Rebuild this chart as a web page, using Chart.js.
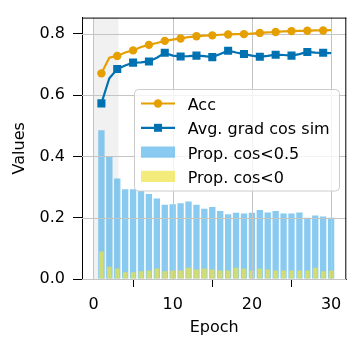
<!DOCTYPE html>
<html>
<head>
<meta charset="utf-8">
<script src="https://cdn.jsdelivr.net/npm/chart.js@4.4.0/dist/chart.umd.min.js"></script>
<style>
html, body { margin: 0; padding: 0; background: #fff; overflow: hidden; }
#wrap { width: 347px; height: 340px; overflow: hidden; }
canvas { display: block; }
</style>
</head>
<body>
<div id="wrap"><canvas id="myChart" width="352" height="340"></canvas></div>
<script>
// data
var epochs = [1, 2, 3, 4, 5, 6, 7, 8, 9, 10, 11, 12, 13, 14, 15,
              16, 17, 18, 19, 20, 21, 22, 23, 24, 25, 26, 27, 28, 29, 30];
var acc = [0.671, 0.722, 0.728, 0.739, 0.746, 0.757, 0.764, 0.770, 0.777, 0.781,
           0.785, 0.789, 0.792, 0.794, 0.795, 0.797, 0.798, 0.799, 0.799, 0.801,
           0.803, 0.805, 0.806, 0.808, 0.809, 0.810, 0.810, 0.811, 0.811, 0.812];
var avgCos = [0.573, 0.655, 0.685, 0.697, 0.706, 0.707, 0.710, 0.722, 0.738, 0.729,
              0.726, 0.727, 0.729, 0.727, 0.724, 0.734, 0.745, 0.739, 0.734, 0.729,
              0.725, 0.728, 0.732, 0.731, 0.729, 0.734, 0.741, 0.739, 0.738, 0.737];
var propHalf = [0.485, 0.400, 0.328, 0.293, 0.293, 0.287, 0.277, 0.263, 0.242, 0.244,
                0.247, 0.253, 0.242, 0.229, 0.235, 0.222, 0.211, 0.216, 0.214, 0.216,
                0.225, 0.217, 0.222, 0.214, 0.214, 0.217, 0.200, 0.207, 0.204, 0.200];
var propNeg = [0.090, 0.040, 0.034, 0.022, 0.022, 0.025, 0.028, 0.034, 0.025, 0.028,
               0.028, 0.037, 0.031, 0.034, 0.031, 0.028, 0.028, 0.037, 0.034, 0.028,
               0.034, 0.031, 0.028, 0.028, 0.028, 0.028, 0.028, 0.037, 0.025, 0.028];
var xTicks = [0, 10, 20, 30];
var yTicks = [0, 0.2, 0.4, 0.6, 0.8];
var warmup = [0, 3.15]; // grey band

var orange = '#E69F00';
var blue = '#0072B2';
var barBlue = 'rgba(86, 180, 233, 0.7)';
var barYellow = 'rgba(240, 228, 66, 0.7)';

Chart.defaults.font.family = "'DejaVu Sans', sans-serif";
Chart.defaults.font.size = 16;
Chart.defaults.color = '#000';

function pts(ys) {
    return epochs.map(function (e, i) { return { x: e, y: ys[i] }; });
}
// markers only on every other epoch
function everyOther(r) {
    return function (c) { return epochs[c.dataIndex] % 2 === 1 ? r : 0; };
}

var spanPlugin = {
    id: 'span',
    beforeDatasetsDraw: function (chart) {
        var ctx = chart.ctx, a = chart.chartArea, x = chart.scales.x;
        var x0 = x.getPixelForValue(warmup[0]);
        var x1 = x.getPixelForValue(warmup[1]);
        ctx.save();
        ctx.fillStyle = '#f1f1f1';
        ctx.fillRect(x0, a.top, x1 - x0, a.bottom - a.top);
        ctx.restore();
    }
};

// grid goes above the bars but under the lines
var gridPlugin = {
    id: 'grid',
    afterDatasetDraw: function (chart, args) {
        if (args.index !== 3) return;
        var ctx = chart.ctx, a = chart.chartArea;
        var sx = chart.scales.x, sy = chart.scales.y;
        ctx.save();
        ctx.strokeStyle = '#c4c4c4';
        ctx.lineWidth = 1;
        ctx.beginPath();
        xTicks.forEach(function (v) {
            var p = Math.round(sx.getPixelForValue(v)) + 0.5;
            ctx.moveTo(p, a.top); ctx.lineTo(p, a.bottom);
        });
        yTicks.forEach(function (v) {
            var p = Math.round(sy.getPixelForValue(v)) + 0.5;
            ctx.moveTo(a.left, p); ctx.lineTo(a.right, p);
        });
        ctx.stroke();
        ctx.restore();
    }
};

var spinePlugin = {
    id: 'spines',
    afterDatasetsDraw: function (chart) {
        var ctx = chart.ctx, a = chart.chartArea;
        ctx.save();
        ctx.strokeStyle = '#000';
        ctx.lineWidth = 1;
        ctx.beginPath();
        ctx.moveTo(a.left, a.top + 0.5); ctx.lineTo(a.right, a.top + 0.5);
        ctx.moveTo(a.right - 0.5, a.top); ctx.lineTo(a.right - 0.5, a.bottom);
        ctx.stroke();
        ctx.restore();
    }
};

var legendPlugin = {
    id: 'boxLegend',
    afterDraw: function (chart) {
        var ctx = chart.ctx;
        var bx = 134.5, by = 89.5, bw = 205, bh = 101.5;
        ctx.save();
        ctx.beginPath();
        if (ctx.roundRect) ctx.roundRect(bx, by, bw, bh, 4);
        else ctx.rect(bx, by, bw, bh);
        ctx.fillStyle = 'rgba(255,255,255,0.8)';
        ctx.fill();
        ctx.strokeStyle = '#cccccc';
        ctx.lineWidth = 1;
        ctx.stroke();

        ctx.font = "16px 'DejaVu Sans'";
        ctx.textBaseline = 'alphabetic';
        chart.data.datasets.forEach(function (ds, i) {
            var base = 110 + 24.3 * i;
            var cy = base - 6.5;
            if (ds.type === 'line') {
                ctx.strokeStyle = ds.borderColor;
                ctx.lineWidth = ds.borderWidth;
                ctx.beginPath();
                ctx.moveTo(141, cy); ctx.lineTo(175, cy);
                ctx.stroke();
                ctx.fillStyle = ds.borderColor;
                ctx.beginPath();
                if (ds.pointStyle === 'rect') ctx.rect(154, cy - 4, 8, 8);
                else ctx.arc(158, cy, 4.2, 0, Math.PI * 2);
                ctx.fill();
            } else {
                ctx.fillStyle = ds.backgroundColor;
                ctx.fillRect(141, cy - 5.6, 34, 11.2);
            }
            ctx.fillStyle = '#000';
            ctx.fillText(ds.label, 187.7, base);
        });
        ctx.restore();
    }
};

var ctx = document.getElementById('myChart').getContext('2d');
var chart = new Chart(ctx, {
    type: 'bar',
    data: {
        datasets: [{
            type: 'line',
            label: 'Acc',
            data: pts(acc),
            borderColor: orange,
            backgroundColor: orange,
            borderWidth: 2.2,
            tension: 0,
            pointStyle: 'circle',
            pointRadius: everyOther(4.2),
            pointBackgroundColor: orange,
            pointBorderColor: orange,
            pointBorderWidth: 0,
            order: 1
        }, {
            type: 'line',
            label: 'Avg. grad cos sim',
            data: pts(avgCos),
            borderColor: blue,
            backgroundColor: blue,
            borderWidth: 2.2,
            tension: 0,
            pointStyle: 'rect',
            pointRadius: everyOther(5.7),
            pointBackgroundColor: blue,
            pointBorderColor: blue,
            pointBorderWidth: 0,
            order: 0
        }, {
            type: 'bar',
            label: 'Prop. cos<0.5',
            data: pts(propHalf),
            backgroundColor: barBlue,
            borderWidth: 0,
            grouped: false,
            barPercentage: 1,
            categoryPercentage: 0.8,
            order: 3
        }, {
            type: 'bar',
            label: 'Prop. cos<0',
            data: pts(propNeg),
            backgroundColor: barYellow,
            borderWidth: 0,
            grouped: false,
            barPercentage: 1,
            categoryPercentage: 0.6,
            order: 2
        }]
    },
    options: {
        responsive: false,
        animation: false,
        events: [],
        layout: { padding: { top: 3, right: 3.3, left: 0, bottom: 0 } },
        plugins: {
            legend: { display: false },
            tooltip: { enabled: false }
        },
        scales: {
            x: {
                type: 'linear',
                min: -1.45,
                max: 31.92,
                offset: false,
                afterBuildTicks: function (s) {
                    s.ticks = xTicks.map(function (v) { return { value: v }; });
                },
                ticks: { padding: 8, maxRotation: 0 },
                grid: { drawOnChartArea: false, drawTicks: true, tickLength: 8, tickColor: '#000', tickWidth: 1 },
                border: { color: '#000', width: 1 },
                title: { display: true, text: 'Epoch', padding: { top: 0, bottom: 3 } },
                afterFit: function (s) { s.height = 61; }
            },
            y: {
                min: 0,
                max: 0.853,
                afterBuildTicks: function (s) {
                    s.ticks = yTicks.map(function (v) { return { value: v }; });
                },
                ticks: {
                    padding: 8,
                    callback: function (v) { return Number(v).toFixed(1); }
                },
                grid: { drawOnChartArea: false, drawTicks: true, tickLength: 9, tickColor: '#000', tickWidth: 1 },
                border: { color: '#000', width: 1 },
                title: { display: true, text: 'Values', padding: { top: 10, bottom: 0 } },
                afterFit: function (s) { s.width = 82; }
            }
        }
    },
    plugins: [spanPlugin, gridPlugin, spinePlugin, legendPlugin]
});
</script>
</body>
</html>
